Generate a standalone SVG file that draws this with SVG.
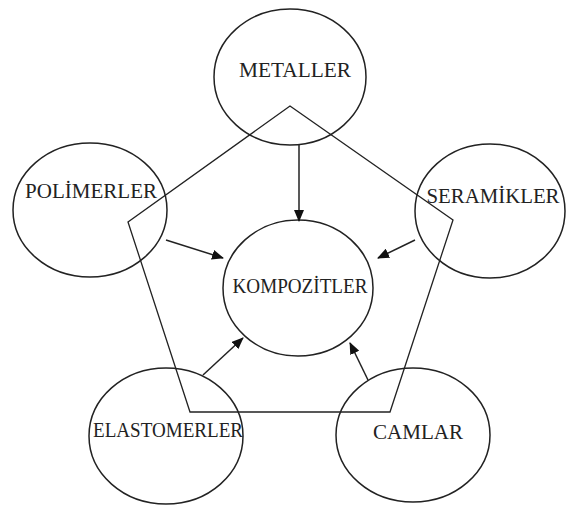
<svg xmlns="http://www.w3.org/2000/svg" width="567" height="506" viewBox="0 0 567 506">
<style>
.n ellipse{fill:none;stroke:#222;stroke-width:1.5}
.n text{font-family:"Liberation Serif","Times New Roman",serif;font-size:20px;fill:#222;text-anchor:middle}
.c line{stroke:#222;stroke-width:1.5}
.p{fill:none;stroke:#222;stroke-width:1.3}
</style>
<defs>
<marker id="ah" viewBox="0 0 12 10" refX="11" refY="5" markerWidth="12" markerHeight="10" markerUnits="userSpaceOnUse" orient="auto">
<path d="M0,0 L12,5 L0,10 Z" fill="#111"/>
</marker>
</defs>
<rect width="567" height="506" fill="#fff"/>
<polygon class="p" points="290,106 453,220 390,412 190,412 128,222"/>
<g id="metaller" class="n"><ellipse cx="290" cy="77" rx="76" ry="68"/><text x="295" y="77" textLength="112" lengthAdjust="spacingAndGlyphs">METALLER</text></g>
<g id="polimerler" class="n"><ellipse cx="90" cy="210" rx="77" ry="67"/><text x="91" y="198" textLength="132" lengthAdjust="spacingAndGlyphs">POLİMERLER</text></g>
<g id="seramikler" class="n"><ellipse cx="490" cy="211" rx="75" ry="67"/><text x="493" y="203" textLength="133" lengthAdjust="spacingAndGlyphs">SERAMİKLER</text></g>
<g id="kompozitler" class="n"><ellipse cx="298" cy="288" rx="75" ry="68"/><text x="300" y="293" textLength="135" lengthAdjust="spacingAndGlyphs">KOMPOZİTLER</text></g>
<g id="elastomerler" class="n"><ellipse cx="166" cy="436" rx="77" ry="68"/><text x="168" y="437" textLength="150" lengthAdjust="spacingAndGlyphs">ELASTOMERLER</text></g>
<g id="camlar" class="n"><ellipse cx="413" cy="435" rx="77" ry="67"/><text x="418" y="439" textLength="90" lengthAdjust="spacingAndGlyphs">CAMLAR</text></g>
<g id="connectors" class="c">
<line x1="299" y1="145" x2="299" y2="221" marker-end="url(#ah)"/>
<line x1="166" y1="240" x2="223" y2="258" marker-end="url(#ah)"/>
<line x1="415" y1="240" x2="378" y2="258" marker-end="url(#ah)"/>
<line x1="203" y1="375" x2="243" y2="338" marker-end="url(#ah)"/>
<line x1="368" y1="380" x2="350" y2="343" marker-end="url(#ah)"/>
</g>
</svg>
